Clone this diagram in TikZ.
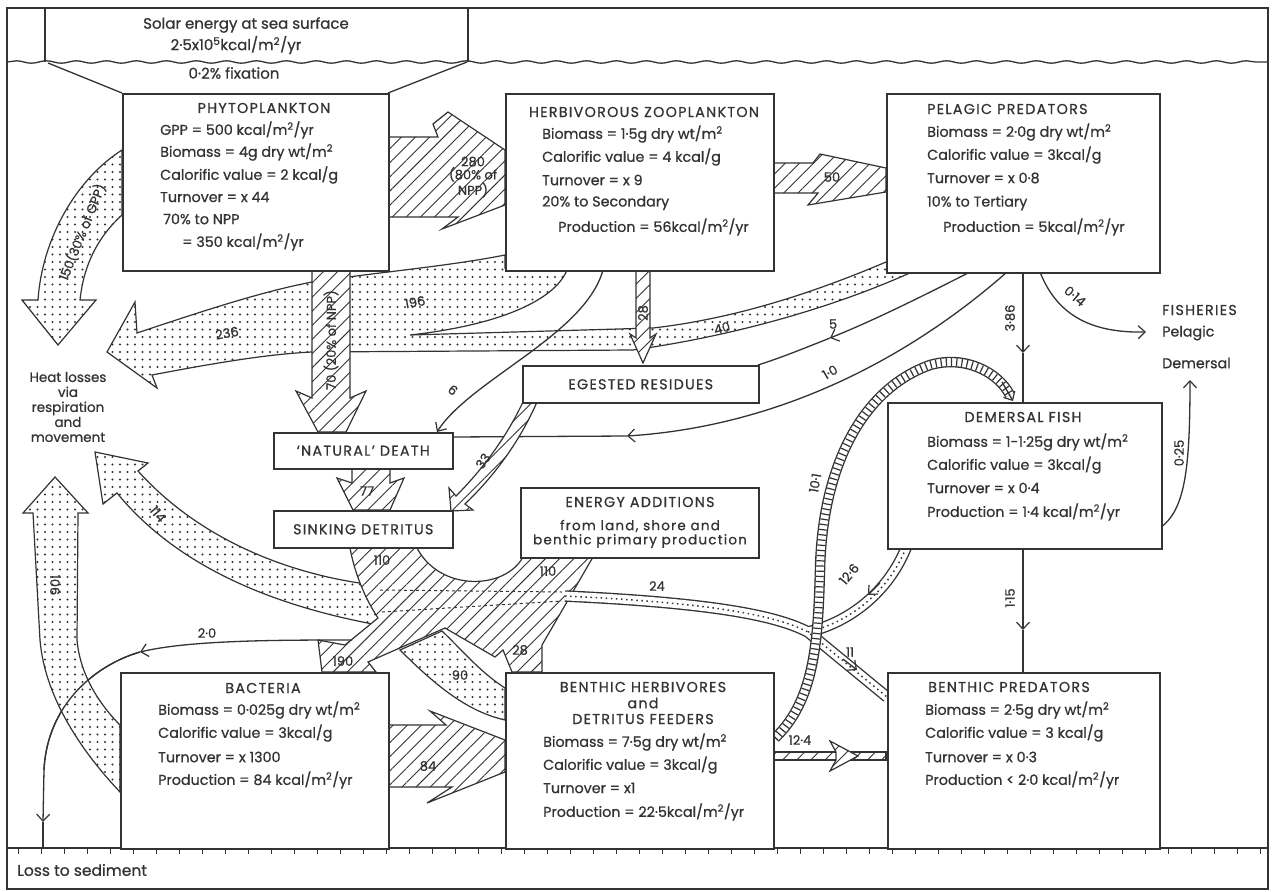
\documentclass[tikz,border=0pt]{standalone}
\usepackage{fontspec}
\setmainfont{Poppins}[FakeBold=0.7]
\newfontfamily\tfam{Poppins}[LetterSpace=9,FakeBold=0.7]
\usetikzlibrary{patterns.meta,arrows.meta,decorations.pathmorphing}
\definecolor{inkc}{HTML}{333333}
\newcommand\bxf{\fontsize{14.3}{15}\selectfont}
\newcommand\ttf{\tfam\fontsize{14.3}{15}\selectfont}
\newcommand\lbf{\fontsize{13}{14}\selectfont}
\tikzset{
 inkline/.style={draw=inkc, line width=1.3pt},
 box/.style={draw=inkc, line width=1.5pt, fill=white, inner sep=0pt, anchor=north west, font=\ttf, text=inkc},
 hatch/.style={draw=inkc, line width=1.2pt, preaction={fill=white}, pattern={Lines[angle=45,distance=10pt,line width=0.9pt]}, pattern color=inkc},
 dotty/.style={draw=inkc, line width=1.2pt, preaction={fill=white}, pattern={Dots[distance=7.5pt,radius=1.05pt]}, pattern color=inkc},
 txt/.style={font=\bxf, text=inkc, inner sep=0pt},
 ttl/.style={font=\ttf, text=inkc, inner sep=0pt},
 lbl/.style={font=\lbf, text=inkc, inner sep=1pt},
 tip/.style={-{Straight Barb[length=7pt,width=13pt,line width=1.2pt]}},
}
\begin{document}
\begin{tikzpicture}[x=1pt,y=-1pt]
\fill[white] (0,0) rectangle (1278,892);
\useasboundingbox (0,0) rectangle (1278,892);
% frame, solar box, sea surface
\draw[inkline] (7,8) rectangle (1268,889);
\draw[inkline] (45,8) -- (45,62) (468,8) -- (468,62);
\draw[inkline, decorate, decoration={snake,amplitude=1.2pt,segment length=30pt}] (7,62) -- (1268,62);
\coordinate (fl1) at (48,63); \coordinate (fl2) at (122,93);
\coordinate (fr1) at (467,62); \coordinate (fr2) at (388,93);
\draw[inkline] (fl1) -- (fl2) (fr1) -- (fr2);
\node[txt, font=\fontsize{15}{16}\selectfont] (sol1) at (246,25) {Solar energy at sea surface};
\node[txt, font=\fontsize{15}{16}\selectfont] (sol2) at (236,45) {2·5x10\textsuperscript{5}kcal/m\textsuperscript{2}/yr};
\node[txt, font=\fontsize{15}{16}\selectfont] (sol3) at (234,73) {0·2\% fixation};
% loss strip
\draw[inkline] (7,848) -- (1268,848);
\foreach \t in {18,41,...,1265} \draw[inkline, line width=1pt] (\t,848) -- (\t,854);
\node[txt, anchor=west, font=\fontsize{15.5}{16}\selectfont] (loss) at (17,870) {Loss to sediment};

% ---- big dotted respiration band 236 = 196 + 40
\path[dotty] (137,333) -- (135,302) -- (107,352) -- (157,388) -- (152,375)
 .. controls (220,362) and (270,354) .. (312,352) -- (633,350) -- (653,347)
 .. controls (760,330) and (850,300) .. (912,272) -- (886,262)
 .. controls (820,290) and (740,318) .. (653,328) -- (410,335)
 .. controls (500,325) and (555,300) .. (567,270) -- (505,268) -- (505,255)
 .. controls (450,266) and (380,272) .. (312,282)
 .. controls (260,292) and (200,312) .. (137,333) -- cycle;
% 150 arrow
\path[dotty] (122,150) .. controls (75,180) and (42,240) .. (38,300) -- (22,300) -- (58,345) -- (96,300) -- (80,300) .. controls (84,262) and (100,235) .. (122,215) -- cycle;
% NPP 70
\path[hatch] (312,270) -- (312,398) -- (296,391) -- (318,432) -- (346,432) -- (366,391) -- (350,398) -- (350,270) -- cycle;
% 280
\path[hatch] (388,137) -- (438,137) -- (433,124) -- (448,112) -- (505,150) -- (505,205) -- (442,229) -- (458,217) -- (388,217) -- cycle;
% 50
\path[hatch] (773,163) -- (813,163) -- (820,154) -- (886,168) -- (886,192) -- (808,205) -- (818,193) -- (773,193) -- cycle;
% 28 to egested
\path[hatch] (636,270) -- (636,338) -- (630,334) -- (643,363) -- (656,334) -- (650,338) -- (650,270) -- cycle;

% thin lines
\draw[inkline, tip] (603,270) .. controls (585,335) and (470,380) .. (437,432);
\coordinate (p5a) at (970,272); \coordinate (p5b) at (830,338); \coordinate (p5c) at (758,365);
\draw[inkline, tip] (p5a) .. controls (915,300) and (870,322) .. (p5b);
\draw[inkline] (p5b) .. controls (800,350) and (780,358) .. (p5c);
\coordinate (p1a) at (1007,272); \coordinate (p1b) at (627,436); \coordinate (p1c) at (452,437);
\draw[inkline, tip] (p1a) .. controls (930,340) and (800,425) .. (p1b);
\draw[inkline] (p1b) -- (p1c);
\coordinate (p3a) at (1023,272); \coordinate (p3b) at (1023,353); \coordinate (p3c) at (1023,402);
\draw[inkline, tip] (p3a) -- (p3b); \draw[inkline] (p3b) -- (p3c);
\coordinate (p4a) at (1023,548); \coordinate (p4b) at (1023,630); \coordinate (p4c) at (1023,672);
\draw[inkline, tip] (p4a) -- (p4b); \draw[inkline] (p4b) -- (p4c);
\draw[inkline, tip] (1040,272) .. controls (1058,318) and (1095,333) .. (1146,332);
\draw[inkline, tip] (1160,528) .. controls (1185,510) and (1190,470) .. (1190,380);

% 33
\path[hatch] (523,402) .. controls (505,440) and (480,472) .. (456,496) -- (449,488) -- (451,511) -- (473,510) -- (465,504) .. controls (492,478) and (518,445) .. (537,402) -- cycle;
% 77
\path[hatch] (352,468) -- (352,483) -- (337,478) -- (353,510) -- (390,510) -- (404,478) -- (390,483) -- (390,468) -- cycle;

% 114 and 90 dotted
\path[dotty] (95,452) -- (148,463) -- (138,471) .. controls (200,540) and (290,575) .. (374,585) .. controls (385,598) and (385,615) .. (378,625) .. controls (280,607) and (180,570) .. (117,493) -- (103,504) -- cycle;
\path[dotty] (400,650) .. controls (440,690) and (470,712) .. (505,720) -- (505,688) .. controls (480,672) and (462,650) .. (442,631) -- cycle;

% hatched confluence 110 + 110 -> 190 + 28
\path[hatch] (350,548) .. controls (355,575) and (366,600) .. (378,618) -- (345,645) -- (318,640) -- (322,672) -- (376,672) -- (368,662) -- (445,628) -- (495,657) -- (503,650) -- (512,672) -- (542,672) -- (542,645) -- (593,557) -- (523,557) .. controls (505,590) and (440,592) .. (417,548) -- cycle;
\draw[inkline, dashed, line width=1pt] (380,590) -- (562,592) (382,612) -- (562,601);

% 2.0 line
\coordinate (q0) at (352,640); \coordinate (q1) at (140,652); \coordinate (q2) at (43,822); \coordinate (q3) at (43,848);
\draw[inkline, tip] (q0) .. controls (280,640) and (190,640) .. (q1);
\draw[inkline, tip] (q1) .. controls (95,665) and (47,705) .. (44,770) -- (q2);
\draw[inkline] (q2) -- (q3);

% 106
\path[dotty] (55,477) -- (88,513) -- (78,513) -- (77,640) .. controls (80,675) and (100,705) .. (120,725) -- (120,792) .. controls (85,755) and (45,700) .. (40,640) -- (33,513) -- (23,513) -- cycle;
\draw[inkline] (q1) .. controls (95,665) and (47,705) .. (44,770);

% thin dotted bands 24, 12.6 (and 11)
\def\bandA{(565,596) .. controls (690,602) and (770,612) .. (808,632) -- (887,697)}
\def\bandB{(906,548) .. controls (888,592) and (850,622) .. (808,632)}
\draw[inkc, line width=11.5pt] \bandA; \draw[inkc, line width=11.5pt] \bandB;
\draw[white, line width=8.8pt] \bandA; \draw[white, line width=8.8pt] \bandB;
\draw[inkc, line width=1.5pt, dash pattern=on 1.5pt off 3.6pt] \bandA;
\draw[inkc, line width=1.5pt, dash pattern=on 1.5pt off 3.6pt] \bandB;
\draw[inkline, tip] (880,583) -- (868,595);
\draw[inkline, tip] (843,659) -- (857,670);

% 10.1 ladder band
\def\bandC{(775,738) .. controls (815,700) and (818,640) .. (820,570) .. controls (822,470) and (860,390) .. (930,365) .. controls (965,355) and (998,372) .. (1010,395)}
\draw[inkc, line width=10.5pt] \bandC;
\draw[white, line width=7.8pt] \bandC;
\draw[inkc, line width=7.8pt, dash pattern=on 1.2pt off 4pt] \bandC;
\draw[inkline, tip] (1002,382) -- (1013,401);

% 84 and 12.4
\path[hatch] (388,725) -- (446,725) -- (430,711) -- (505,740) -- (505,772) -- (427,803) -- (452,787) -- (388,787) -- cycle;
\path[hatch] (773,752) rectangle (886,760);
\path[hatch] (836,752) -- (830,741) -- (858,756) -- (830,771) -- (836,760) -- cycle;

% ---- boxes
\node[box, minimum width=266pt, minimum height=177pt] (phyto) at (122,93) {};
\node[box, minimum width=268pt, minimum height=177pt] (zoo) at (505,93) {};
\node[box, minimum width=273pt, minimum height=179pt] (pel) at (886,93) {};
\node[box, minimum width=236pt, minimum height=37pt] (egest) at (522,365) {EGESTED RESIDUES};
\node[box, minimum width=179pt, minimum height=36pt] (death) at (273,432) {‘NATURAL’ DEATH};
\node[box, minimum width=179pt, minimum height=37pt] (sink) at (273,510) {SINKING DETRITUS};
\node[box, minimum width=238pt, minimum height=70pt] (energy) at (520,487) {};
\node[box, minimum width=274pt, minimum height=146pt] (dem) at (887,402) {};
\node[box, minimum width=268pt, minimum height=176pt] (bact) at (120,672) {};
\node[box, minimum width=268pt, minimum height=176pt] (bherb) at (505,672) {};
\node[box, minimum width=272pt, minimum height=176pt] (bpred) at (887,672) {};

% ---- box texts
\node[ttl] (phT) at (264,108) {PHYTOPLANKTON};
\node[txt, anchor=west] (ph1) at (160,130) {GPP = 500 kcal/m\textsuperscript{2}/yr};
\node[txt, anchor=west] (ph2) at (160,152) {Biomass = 4g dry wt/m\textsuperscript{2}};
\node[txt, anchor=west] (ph3) at (160,175) {Calorific value = 2 kcal/g};
\node[txt, anchor=west] (ph4) at (160,197) {Turnover = x 44};
\node[txt, anchor=west] (ph5) at (163,219) {70\% to NPP};
\node[txt, anchor=west] (ph6) at (182,242) {= 350 kcal/m\textsuperscript{2}/yr};

\node[ttl] (zoT) at (644,112) {HERBIVOROUS ZOOPLANKTON};
\node[txt, anchor=west] (zo1) at (542,134) {Biomass = 1·5g dry wt/m\textsuperscript{2}};
\node[txt, anchor=west] (zo2) at (542,157) {Calorific value = 4 kcal/g};
\node[txt, anchor=west] (zo3) at (542,180) {Turnover = x 9};
\node[txt, anchor=west] (zo4) at (542,203) {20\% to Secondary};
\node[txt, anchor=west] (zo5) at (558,227) {Production = 56kcal/m\textsuperscript{2}/yr};

\node[ttl, anchor=west] (peT) at (927,109) {PELAGIC PREDATORS};
\node[txt, anchor=west] (pe1) at (927,132) {Biomass = 2·0g dry wt/m\textsuperscript{2}};
\node[txt, anchor=west] (pe2) at (927,155) {Calorific value = 3kcal/g};
\node[txt, anchor=west] (pe3) at (927,178) {Turnover = x 0·8};
\node[txt, anchor=west] (pe4) at (927,203) {10\% to Tertiary};
\node[txt, anchor=west] (pe5) at (943,227) {Production = 5kcal/m\textsuperscript{2}/yr};

\node[ttl] (enT) at (640,502) {ENERGY ADDITIONS};
\node[txt, font=\tfam\fontsize{13.5}{14}\selectfont] (en1) at (640,526) {from land, shore and};
\node[txt, font=\tfam\fontsize{13.5}{14}\selectfont] (en2) at (640,541) {benthic primary production};

\node[ttl] (deT) at (1023,417) {DEMERSAL FISH};
\node[txt, anchor=west] (de1) at (927,442) {Biomass = 1-1·25g dry wt/m\textsuperscript{2}};
\node[txt, anchor=west] (de2) at (927,465) {Calorific value = 3kcal/g};
\node[txt, anchor=west] (de3) at (927,488) {Turnover = x 0·4};
\node[txt, anchor=west] (de4) at (927,512) {Production = 1·4 kcal/m\textsuperscript{2}/yr};

\node[ttl] (baT) at (263,688) {BACTERIA};
\node[txt, anchor=west] (ba1) at (158,710) {Biomass = 0·025g dry wt/m\textsuperscript{2}};
\node[txt, anchor=west] (ba2) at (158,733) {Calorific value = 3kcal/g};
\node[txt, anchor=west] (ba3) at (158,757) {Turnover = x 1300};
\node[txt, anchor=west] (ba4) at (158,780) {Production = 84 kcal/m\textsuperscript{2}/yr};

\node[ttl] (bhT) at (643,687) {BENTHIC HERBIVORES};
\node[ttl] (bhA) at (643,703) {and};
\node[ttl] (bhB) at (643,719) {DETRITUS FEEDERS};
\node[txt, anchor=west] (bh1) at (543,742) {Biomass = 7·5g dry wt/m\textsuperscript{2}};
\node[txt, anchor=west] (bh2) at (543,765) {Calorific value = 3kcal/g};
\node[txt, anchor=west] (bh3) at (543,788) {Turnover = x1};
\node[txt, anchor=west] (bh4) at (543,812) {Production = 22·5kcal/m\textsuperscript{2}/yr};

\node[ttl, anchor=west] (bpT) at (928,687) {BENTHIC PREDATORS};
\node[txt, anchor=west] (bp1) at (925,710) {Biomass = 2·5g dry wt/m\textsuperscript{2}};
\node[txt, anchor=west] (bp2) at (925,733) {Calorific value = 3 kcal/g};
\node[txt, anchor=west] (bp3) at (925,757) {Turnover = x 0·3};
\node[txt, anchor=west] (bp4) at (925,780) {Production < 2·0 kcal/m\textsuperscript{2}/yr};

% free texts
\node[lbl, align=center, font=\fontsize{13.5}{15}\selectfont] (heat) at (68,407) {Heat losses\\via\\respiration\\and\\movement};
\node[ttl, anchor=west] (fis) at (1162,310) {FISHERIES};
\node[txt, anchor=west] (fpel) at (1162,333) {Pelagic};
\node[txt, anchor=west] (fdem) at (1162,363) {Demersal};

% flow labels
\node[lbl, rotate=68] (l150) at (82,232) {150(30\% of GPP)};
\node[lbl, rotate=10] (l236) at (227,333) {236};
\node[lbl, rotate=10] (l196) at (415,302) {196};
\node[lbl, rotate=15] (l40) at (722,328) {40};
\node[lbl, rotate=90] (l28a) at (643,313) {28};
\node[lbl, rotate=-40] (l6) at (453,390) {6};
\node[lbl] (l5) at (833,324) {5};
\node[lbl, rotate=30] (l10) at (830,372) {1·0};
\node[lbl, rotate=90] (l386) at (1010,318) {3·86};
\node[lbl, rotate=-40] (l014) at (1075,296) {0·14};
\node[lbl, rotate=90] (l025) at (1179,453) {0·25};
\node[lbl, rotate=90] (l115) at (1010,598) {1·15};
\node[lbl, rotate=80] (l101) at (815,483) {10·1};
\node[lbl, rotate=50] (l126) at (849,574) {12·6};
\node[lbl] (l24) at (657,586) {24};
\node[lbl] (l11) at (850,652) {11};
\node[lbl] (l124) at (800,740) {12·4};
\node[lbl] (l84) at (428,766) {84};
\node[lbl] (l190) at (343,661) {190};
\node[lbl] (l90) at (460,675) {90};
\node[lbl] (l28b) at (520,650) {28};
\node[lbl] (l110a) at (548,571) {110};
\node[lbl] (l110b) at (382,560) {110};
\node[lbl, rotate=-50] (l114) at (158,514) {114};
\node[lbl, rotate=-90] (l106) at (55,585) {106};
\node[lbl] (l20) at (207,633) {2·0};
\node[lbl, rotate=55] (l33) at (483,461) {33};
\node[lbl] (l77) at (367,491) {77};
\node[lbl, rotate=90] (l70) at (331,340) {70 (20\% of NPP)};
\node[lbl, align=center, font=\fontsize{13}{13}\selectfont] (l280) at (473,177) {280\\(80\% of\\NPP)};
\node[lbl] (l50) at (832,177) {50};
\end{tikzpicture}
\end{document}
